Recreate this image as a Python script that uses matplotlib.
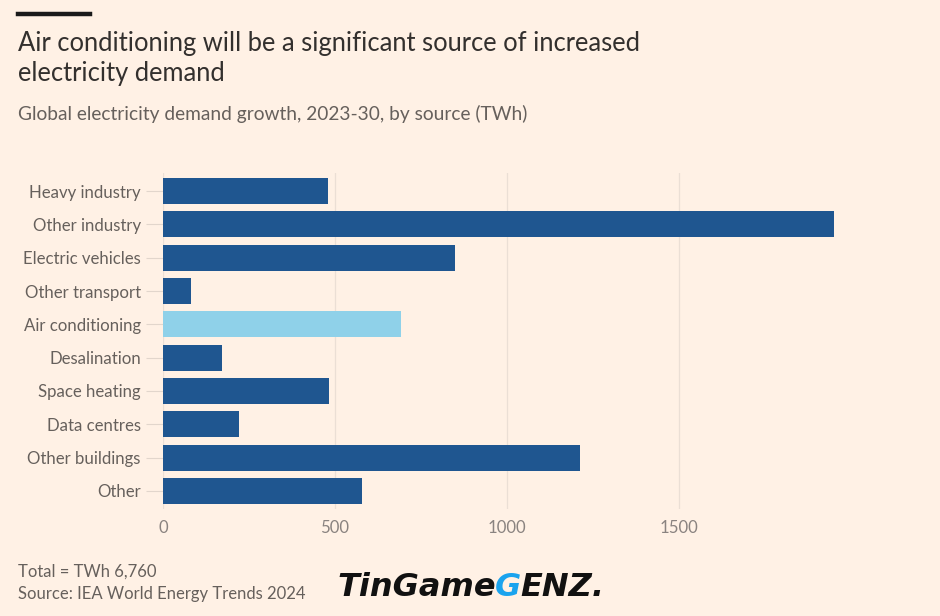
import matplotlib
matplotlib.use("Agg")
import matplotlib.pyplot as plt
from matplotlib.lines import Line2D

categories = ["Heavy industry", "Other industry", "Electric vehicles", "Other transport",
              "Air conditioning", "Desalination", "Space heating", "Data centres",
              "Other buildings", "Other"]
values = [480, 1950, 850, 82, 692, 172, 483, 221, 1212, 578]
highlight = "Air conditioning"
xticks = [0, 500, 1000, 1500]

BG = "#FFF1E5"
DARK = "#1F5690"
LIGHT = "#8FD1E9"
GRAY = "#66605C"
FONT = "Lato"

plt.rcParams['font.family'] = [FONT, 'DejaVu Sans']

fig = plt.figure(figsize=(9.4, 6.16), dpi=100, facecolor=BG)
ax = fig.add_axes([163/940, 1-509.3/616, 688/940, (509.3-172.7)/616])
ax.set_facecolor(BG)

ypos = list(range(len(categories)))
colors = [LIGHT if c == highlight else DARK for c in categories]
ax.barh(ypos, values, height=0.78, color=colors, zorder=3)
ax.set_ylim(len(categories) - 0.45, -0.55)
ax.set_xlim(0, 2000)
ax.set_yticks(ypos)
ax.set_yticklabels(categories, fontsize=12.1, color=GRAY)
ax.set_xticks(xticks)
ax.set_xticklabels([str(t) for t in xticks], fontsize=12.1, color="#8a8380")
ax.tick_params(axis='y', length=12, width=0.8, color="#e2d6cc", pad=4)
ax.tick_params(axis='x', length=0, pad=8)
for s in ax.spines.values():
    s.set_visible(False)
ax.grid(axis='x', color="#ebdfd5", linewidth=0.9, zorder=0)
ax.set_axisbelow(True)

# top black rule
fig.add_artist(Line2D([18/940, 90/940], [1-14/616, 1-14/616], color="#1a1a1a", linewidth=3.2))

fig.text(18/940, 1-44/616, "Air conditioning will be a significant source of increased",
         fontsize=18.4, color="#33302E", va='center', ha='left')
fig.text(18/940, 1-74/616, "electricity demand",
         fontsize=18.4, color="#33302E", va='center', ha='left')
fig.text(18/940, 1-114/616, "Global electricity demand growth, 2023-30, by source (TWh)",
         fontsize=13.8, color=GRAY, va='center', ha='left')

fig.text(18/940, 1-572/616, "Total = TWh 6,760", fontsize=12, color=GRAY, va='center', ha='left')
fig.text(18/940, 1-594/616, "Source: IEA World Energy Trends 2024", fontsize=12, color=GRAY, va='center', ha='left')

# watermark
fig.canvas.draw()
r = fig.canvas.get_renderer()
x = 337
parts = [("TinGame", "#111111"), ("G", "#1AA3EE"), ("ENZ.", "#111111")]
for txt, col in parts:
    t = fig.text(x/940, 1-587/616, txt, fontsize=23, fontweight='bold', fontstyle='italic',
                 color=col, va='center', ha='left', family='DejaVu Sans')
    bb = t.get_window_extent(renderer=r)
    x = bb.x1 - 1

fig.savefig("out.png", dpi=100, facecolor=BG)
